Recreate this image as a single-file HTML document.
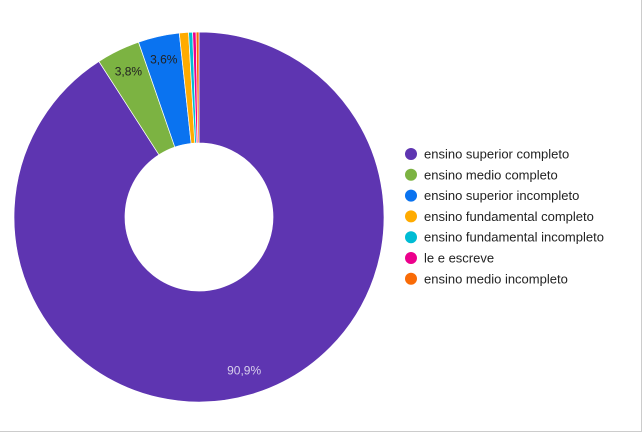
<!DOCTYPE html>
<html><head><meta charset="utf-8"><style>
html,body{margin:0;padding:0;background:#fff;}
#wrap{position:relative;width:644px;height:433px;overflow:hidden;font-family:"Liberation Sans",Arial,sans-serif;}
.frame{position:absolute;left:0;top:0;width:641px;height:431px;border-right:1px solid #ccc;border-bottom:1px solid #ccc;}
</style></head><body>
<div id="wrap">
<div class="frame"></div>
<svg id="chart" width="644" height="433" style="position:absolute;left:0;top:0"></svg>
</div>
<script>
const categories=["ensino superior completo","ensino medio completo","ensino superior incompleto","ensino fundamental completo","ensino fundamental incompleto","le e escreve","ensino medio incompleto"];
const values=[90.9,3.8,3.6,0.8,0.35,0.3,0.25];
const colors=["#5e35b1","#7cb342","#0a73f0","#ffab00","#00bcd4","#ec008c","#f96b07"];
const labelTexts=["90,9%","3,8%","3,6%","","","",""];
const svg=document.getElementById('chart');
const NS="http://www.w3.org/2000/svg";
const cx=199,cy=217,R=185,r=74;
const total=values.reduce((a,b)=>a+b,0);
function pt(a,rad){return [cx+rad*Math.sin(a),cy-rad*Math.cos(a)];}
let acc=0;
values.forEach((v,i)=>{
  const a0=acc/total*2*Math.PI; acc+=v; const a1=acc/total*2*Math.PI;
  const large=(a1-a0)>Math.PI?1:0;
  const p0=pt(a0,R),p1=pt(a1,R),q1=pt(a1,r),q0=pt(a0,r);
  const p=document.createElementNS(NS,'path');
  p.setAttribute('d',`M${p0[0]},${p0[1]}A${R},${R} 0 ${large} 1 ${p1[0]},${p1[1]}L${q1[0]},${q1[1]}A${r},${r} 0 ${large} 0 ${q0[0]},${q0[1]}Z`);
  p.setAttribute('fill',colors[i]);
  p.setAttribute('stroke','#fff');p.setAttribute('stroke-width','0.7');
  
  
  svg.appendChild(p);
  if(labelTexts[i]){
    const am=(a0+a1)/2;const lr=i===0?160:(R+r)/2+32;
    const lp=pt(am,lr);
    const t=document.createElementNS(NS,'text');
    t.setAttribute('x',lp[0]);t.setAttribute('y',lp[1]+4);
    t.setAttribute('text-anchor','middle');t.setAttribute('font-size','12');
    t.setAttribute('fill',i===0?'#d8d0ec':'#222');
    t.textContent=labelTexts[i];
    
    
    svg.appendChild(t);
  }
});
categories.forEach((c,i)=>{
  const y=154+i*20.8;
  const g=document.createElementNS(NS,'g');
  
  
  const ci=document.createElementNS(NS,'circle');
  ci.setAttribute('cx',411);ci.setAttribute('cy',y);ci.setAttribute('r',6);ci.setAttribute('fill',colors[i]);
  
  
  const t=document.createElementNS(NS,'text');
  t.setAttribute('x',424);t.setAttribute('y',y+4.5);t.setAttribute('font-size','13');t.setAttribute('fill','#222');
  t.textContent=c;
  
  
  g.appendChild(ci);g.appendChild(t);svg.appendChild(g);
});
</script>
</body></html>
